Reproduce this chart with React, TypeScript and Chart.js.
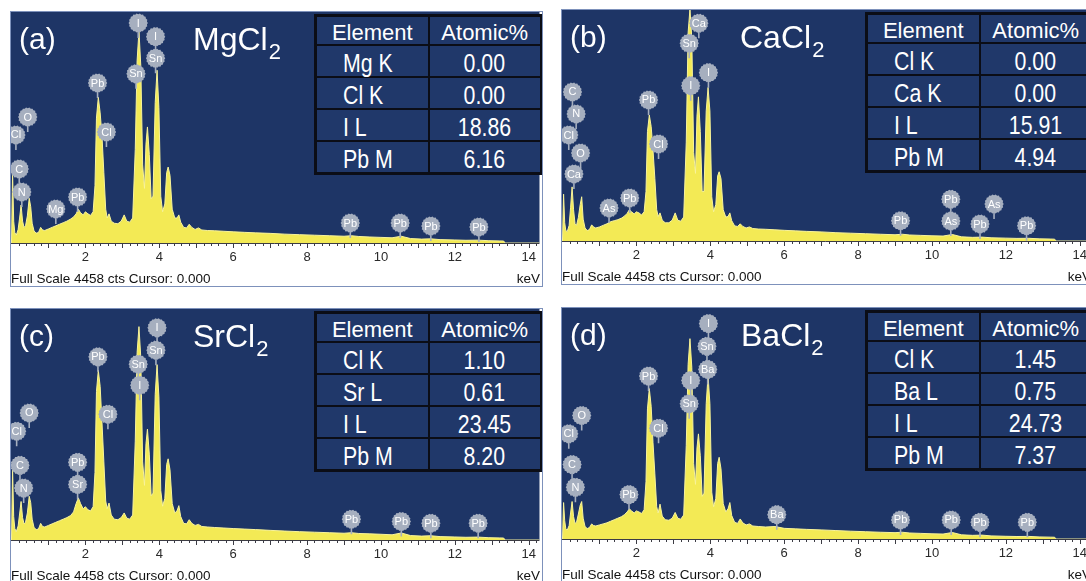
import React, { useEffect, useRef } from "react";
import { Chart, registerables } from "chart.js";

Chart.register(...registerables);

// ---------- data ----------
const energyKeV = [
  0, 0.03, 0.06, 0.09, 0.13, 0.18, 0.22, 0.26, 0.30, 0.34,
  0.38, 0.43, 0.48, 0.52, 0.56, 0.61, 0.67, 0.73, 0.79, 0.84,
  0.90, 1.00, 1.10, 1.20, 1.30, 1.40, 1.50, 1.60, 1.68, 1.75,
  1.81, 1.87, 1.94, 2.00, 2.07, 2.14, 2.21, 2.26, 2.30, 2.35,
  2.40, 2.45, 2.50, 2.55, 2.59, 2.64, 2.70, 2.78, 2.88, 2.97,
  3.05, 3.12, 3.20, 3.28, 3.35, 3.40, 3.45, 3.50, 3.55, 3.60,
  3.64, 3.68, 3.73, 3.78, 3.83, 3.89, 3.94, 3.99, 4.04, 4.09,
  4.15, 4.20, 4.24, 4.29, 4.35, 4.42, 4.48, 4.53, 4.58, 4.66,
  4.74, 4.81, 4.88, 4.97, 5.06, 5.15, 5.30, 5.50, 5.75, 6.00,
  6.30, 6.60, 7.00, 7.40, 7.80, 8.20, 8.60, 9.00, 9.20, 9.40,
  9.70, 10.00, 10.30, 10.55, 10.80, 11.10, 11.35, 11.60, 12.00, 12.30,
  12.62, 12.90, 13.20, 13.32, 13.36, 14.30,
];

const countsMgCl2 = [
  0, 1340, 420, 200, 150, 260, 480, 730, 420, 300,
  330, 520, 860, 700, 380, 230, 190, 200, 300, 250,
  240, 270, 300, 330, 360, 390, 420, 460, 500, 560,
  650, 580, 540, 600, 560, 530, 600, 1100, 2400, 2800,
  2500, 2050, 1350, 650, 480, 560, 420, 380, 370, 420,
  540, 420, 400, 480, 1800, 3500, 4080, 3400, 1500, 1050,
  1900, 2230, 1700, 850, 900, 2700, 3320, 2600, 900, 600,
  750, 1350, 1460, 1300, 650, 480, 480, 540, 400, 300,
  290, 360, 300, 260, 290, 250, 240, 235, 225, 215,
  205, 195, 185, 170, 160, 150, 140, 130, 140, 125,
  115, 108, 100, 130, 85, 75, 80, 65, 58, 52,
  55, 45, 40, 38, 0, 0,
];

const countsCaCl2 = [
  0, 900, 350, 200, 180, 300, 650, 1040, 600, 330,
  300, 450, 700, 850, 420, 250, 200, 220, 310, 270,
  250, 270, 300, 330, 370, 390, 410, 440, 480, 530,
  600, 560, 520, 560, 540, 500, 560, 950, 2100, 2420,
  2200, 1750, 1200, 600, 470, 540, 400, 350, 350, 400,
  540, 400, 380, 460, 1900, 4000, 4458, 3900, 1700, 1300,
  2400, 2770, 2100, 950, 950, 2500, 2950, 2500, 850, 560,
  700, 1250, 1330, 1200, 600, 460, 470, 540, 390, 290,
  280, 330, 280, 250, 270, 240, 230, 225, 215, 205,
  195, 185, 175, 160, 150, 140, 130, 120, 130, 115,
  108, 100, 95, 125, 80, 70, 75, 62, 55, 50,
  52, 42, 38, 35, 0, 0,
];

const countsSrCl2 = [
  0, 1350, 450, 220, 160, 270, 500, 740, 430, 310,
  340, 520, 840, 720, 400, 240, 200, 210, 320, 260,
  250, 280, 310, 340, 370, 400, 430, 470, 540, 700,
  810, 700, 600, 640, 580, 560, 640, 1300, 2850, 3260,
  2950, 2250, 1500, 750, 600, 710, 480, 400, 390, 430,
  520, 420, 400, 480, 1900, 3600, 4100, 3500, 1500, 1050,
  1850, 2130, 1650, 850, 900, 2800, 3370, 2750, 950, 650,
  800, 1450, 1560, 1350, 700, 520, 560, 660, 450, 320,
  310, 390, 320, 280, 300, 260, 250, 240, 230, 220,
  210, 200, 185, 172, 160, 150, 140, 130, 140, 125,
  118, 110, 100, 135, 85, 75, 82, 65, 58, 52,
  56, 45, 40, 38, 0, 0,
];

const countsBaCl2 = [
  0, 700, 350, 200, 170, 260, 500, 720, 430, 300,
  320, 480, 650, 720, 400, 240, 200, 220, 290, 260,
  250, 270, 290, 310, 340, 370, 400, 430, 470, 520,
  580, 540, 500, 540, 520, 490, 560, 1100, 2500, 2890,
  2550, 1850, 1250, 620, 500, 670, 440, 370, 360, 400,
  510, 400, 380, 460, 1800, 3350, 3850, 3300, 1450, 1050,
  1750, 2020, 1600, 820, 880, 2600, 3140, 2600, 900, 620,
  780, 1450, 1570, 1350, 680, 520, 580, 700, 450, 320,
  300, 385, 310, 270, 290, 250, 240, 230, 240, 205,
  195, 185, 175, 162, 150, 140, 130, 122, 130, 115,
  108, 100, 95, 125, 80, 70, 75, 60, 52, 48,
  50, 40, 36, 34, 0, 0,
];

// element markers: [label, keV, counts at marker centre]
type Marker = [string, number, number];
const markersMgCl2: Marker[] = [
  ["O", 0.44, 2420], ["Cl", 0.12, 2076], ["C", 0.21, 1422], ["N", 0.28, 980],
  ["Mg", 1.2, 653], ["Pb", 1.79, 884], ["Pb", 2.33, 3075], ["Cl", 2.57, 2133],
  ["I", 3.43, 4228], ["Sn", 3.37, 3250], ["I", 3.9, 3965], ["Sn", 3.9, 3550],
  ["Pb", 9.17, 384], ["Pb", 10.52, 384], ["Pb", 11.35, 327], ["Pb", 12.65, 307],
];
const markersCaCl2: Marker[] = [
  ["C", 0.27, 2864], ["N", 0.37, 2441], ["Cl", 0.17, 2037], ["O", 0.49, 1691],
  ["Ca", 0.31, 1288], ["As", 1.26, 634], ["Pb", 1.82, 826], ["Pb", 2.33, 2710],
  ["Cl", 2.6, 1864], ["Ca", 3.69, 4184], ["Sn", 3.43, 3800], ["I", 3.47, 2985],
  ["I", 3.95, 3235], ["Pb", 9.15, 390], ["Pb", 10.51, 801], ["As", 10.51, 384],
  ["Pb", 11.3, 327], ["As", 11.68, 711], ["Pb", 12.56, 294],
];
const markersSrCl2: Marker[] = [
  ["O", 0.48, 2441], ["Cl", 0.14, 2089], ["C", 0.23, 1434], ["N", 0.33, 997],
  ["Pb", 1.79, 1492], ["Sr", 1.79, 1068], ["Pb", 2.34, 3519], ["Cl", 2.61, 2416],
  ["Sn", 3.43, 3378], ["I", 3.47, 2974], ["I", 3.94, 4077], ["Sn", 3.91, 3648],
  ["Pb", 9.2, 400], ["Pb", 10.55, 356], ["Pb", 11.35, 323], ["Pb", 12.63, 323],
];
const markersBaCl2: Marker[] = [
  ["O", 0.52, 2373], ["Cl", 0.17, 2021], ["C", 0.26, 1430], ["N", 0.35, 993],
  ["Pb", 1.8, 853], ["Pb", 2.33, 3130], ["Cl", 2.6, 2129], ["I", 3.47, 3047],
  ["Sn", 3.43, 2599], ["I", 3.95, 4139], ["Sn", 3.91, 3702], ["Ba", 3.93, 3259],
  ["Ba", 5.8, 468], ["Pb", 9.15, 366], ["Pb", 10.52, 366], ["Pb", 11.3, 320],
  ["Pb", 12.58, 320],
];

const xTickValues = [2, 4, 6, 8, 10, 12, 14];
const FULL_SCALE_CTS = 4458;
const tableHeader = ["Element", "Atomic%"];
const rowsMgCl2 = [["Mg K", "0.00"], ["Cl K", "0.00"], ["I L", "18.86"], ["Pb M", "6.16"]];
const rowsCaCl2 = [["Cl K", "0.00"], ["Ca K", "0.00"], ["I L", "15.91"], ["Pb M", "4.94"]];
const rowsSrCl2 = [["Cl K", "1.10"], ["Sr L", "0.61"], ["I L", "23.45"], ["Pb M", "8.20"]];
const rowsBaCl2 = [["Cl K", "1.45"], ["Ba L", "0.75"], ["I L", "24.73"], ["Pb M", "7.37"]];

// ---------- style ----------
const NAVY = "#1e3566";
const CELL = "#20386a";
const GRIDLINE = "#0b0d16";
const YELLOW = "#f3ea55";
const YELLOW_EDGE = "#f8f39a";
const MARKER_FILL = "#a6afbf";
const FONT = '"Liberation Sans", Arial, Helvetica, sans-serif';
const X_MIN = -0.04;
const X_MAX = 14.29;
const PANEL_W = 533;
const PANEL_H = 276;
const AXIS_H = 44;

function topFor(baseline: number, fs: number) {
  return baseline - 0.8465 * fs;
}

function drawMarker(ctx: CanvasRenderingContext2D, x: number, y: number, label: string) {
  const r = 9;
  ctx.strokeStyle = MARKER_FILL;
  ctx.lineWidth = 1.6;
  ctx.beginPath();
  ctx.moveTo(x, y + r - 1);
  ctx.lineTo(x, y + r + 6);
  ctx.stroke();
  ctx.fillStyle = MARKER_FILL;
  ctx.beginPath();
  const n = 18;
  for (let i = 0; i <= n * 2; i++) {
    const a = (i * Math.PI) / n;
    const rr = i % 2 === 0 ? r + 0.7 : r - 0.2;
    const px = x + rr * Math.cos(a);
    const py = y + rr * Math.sin(a);
    if (i === 0) ctx.moveTo(px, py);
    else ctx.lineTo(px, py);
  }
  ctx.closePath();
  ctx.fill();
  ctx.fillStyle = "#ffffff";
  ctx.font = `11px ${FONT}`;
  ctx.textAlign = "center";
  ctx.textBaseline = "middle";
  ctx.fillText(label, x, y + 0.5);
}

function SpectrumCanvas({ counts, markers }: { counts: number[]; markers: Marker[] }) {
  const ref = useRef<HTMLCanvasElement | null>(null);
  useEffect(() => {
    const canvas = ref.current;
    if (!canvas) return;
    const decor = {
      id: "edsDecor",
      beforeDatasetsDraw(chart: any) {
        const { ctx, chartArea: a } = chart;
        ctx.save();
        ctx.fillStyle = NAVY;
        ctx.fillRect(a.left, a.top, a.right - a.left, a.bottom - a.top);
        ctx.restore();
      },
      afterDatasetsDraw(chart: any) {
        const { ctx, chartArea: a, scales } = chart;
        ctx.save();
        ctx.beginPath();
        ctx.rect(a.left, a.top, a.right - a.left, a.bottom - a.top);
        ctx.clip();
        for (const [label, kev, cts] of markers) {
          drawMarker(ctx, scales.x.getPixelForValue(kev), scales.y.getPixelForValue(cts), label);
        }
        ctx.restore();
      },
      afterDraw(chart: any) {
        const { ctx, chartArea: a, scales } = chart;
        ctx.save();
        ctx.strokeStyle = "#3c3c44";
        ctx.lineWidth = 1;
        ctx.beginPath();
        ctx.moveTo(a.left, a.bottom + 0.5);
        ctx.lineTo(a.right, a.bottom + 0.5);
        ctx.stroke();
        for (let k = 1; k <= 71; k++) {
          const v = k * 0.2;
          const px = Math.round(scales.x.getPixelForValue(v)) + 0.5;
          const len = k % 5 === 0 ? 5 : 3;
          ctx.beginPath();
          ctx.moveTo(px, a.bottom);
          ctx.lineTo(px, a.bottom + len);
          ctx.stroke();
        }
        ctx.restore();
      },
    };
    const chart = new Chart(canvas, {
      type: "line",
      data: {
        datasets: [
          {
            data: energyKeV.map((e, i) => ({ x: e, y: counts[i] })),
            fill: "origin",
            backgroundColor: YELLOW,
            borderColor: YELLOW_EDGE,
            borderWidth: 1,
            pointRadius: 0,
            tension: 0,
          },
        ],
      },
      options: {
        responsive: false,
        animation: false,
        events: [],
        layout: { padding: 0 },
        plugins: {
          legend: { display: false },
          tooltip: { enabled: false },
          title: { display: false },
        },
        scales: {
          x: {
            type: "linear",
            min: X_MIN,
            max: X_MAX,
            position: "bottom",
            grid: { display: false, drawTicks: false },
            border: { display: false },
            afterBuildTicks: (s: any) => {
              s.ticks = xTickValues.map((v) => ({ value: v }));
            },
            afterFit: (s: any) => {
              s.height = AXIS_H;
            },
            ticks: {
              autoSkip: false,
              maxRotation: 0,
              padding: 7,
              color: "#2a2a2a",
              font: { family: FONT, size: 13 },
            },
          },
          y: { display: false, min: 0, max: FULL_SCALE_CTS },
        },
      } as any,
      plugins: [decor],
    });
    return () => chart.destroy();
  }, [counts, markers]);
  return (
    <canvas
      ref={ref}
      width={PANEL_W}
      height={PANEL_H}
      style={{ position: "absolute", left: 0, top: 0, width: PANEL_W, height: PANEL_H }}
    />
  );
}

function ResultTable({ rows }: { rows: string[][] }) {
  const cell: React.CSSProperties = {
    background: CELL,
    color: "#fff",
    display: "flex",
    alignItems: "center",
    paddingTop: 4,
    boxSizing: "border-box",
    overflow: "visible",
    whiteSpace: "nowrap",
  };
  const narrow = (origin: string): React.CSSProperties => ({
    display: "inline-block",
    fontSize: 26,
    lineHeight: 1,
    transform: "scaleX(0.82)",
    transformOrigin: origin,
  });
  return (
    <div
      style={{
        position: "absolute",
        left: 304,
        top: 3,
        width: 229,
        height: 161,
        background: GRIDLINE,
        boxSizing: "border-box",
        padding: 3,
        display: "grid",
        gridTemplateColumns: "1fr 1fr",
        gridTemplateRows: "repeat(5, 1fr)",
        gap: 2,
      }}
    >
      {tableHeader.map((h) => (
        <div key={h} style={{ ...cell, justifyContent: "center", fontSize: 22, lineHeight: 1 }}>
          {h}
        </div>
      ))}
      {rows.map(([el, v]) => (
        <React.Fragment key={el}>
          <div style={{ ...cell, justifyContent: "flex-start", paddingLeft: 26 }}>
            <span style={narrow("left center")}>{el}</span>
          </div>
          <div style={{ ...cell, justifyContent: "center" }}>
            <span style={narrow("center center")}>{v}</span>
          </div>
        </React.Fragment>
      ))}
    </div>
  );
}

type PanelProps = {
  left: number;
  top: number;
  tag: string;
  formula: string;
  formulaLeft: number;
  counts: number[];
  markers: Marker[];
  rows: string[][];
};

function Panel({ left, top, tag, formula, formulaLeft, counts, markers, rows }: PanelProps) {
  return (
    <div style={{ position: "absolute", left, top, width: PANEL_W, height: PANEL_H, background: "#fff" }}>
      <SpectrumCanvas counts={counts} markers={markers} />
      <div
        style={{
          position: "absolute",
          left: 9,
          top: topFor(38, 30),
          fontSize: 30,
          lineHeight: "30px",
          color: "#fff",
          whiteSpace: "nowrap",
        }}
      >
        {tag}
      </div>
      <div
        style={{
          position: "absolute",
          left: formulaLeft,
          top: topFor(39, 32),
          fontSize: 32,
          lineHeight: "32px",
          color: "#fff",
          whiteSpace: "nowrap",
        }}
      >
        {formula}
        <span style={{ fontSize: 22, lineHeight: 0, position: "relative", top: 9, marginLeft: 1 }}>2</span>
      </div>
      <ResultTable rows={rows} />
      <div
        style={{
          position: "absolute",
          left: 1,
          top: topFor(272, 13.5),
          fontSize: 13.5,
          lineHeight: "13.5px",
          color: "#111",
          whiteSpace: "nowrap",
        }}
      >
        Full Scale 4458 cts Cursor: 0.000
      </div>
      <div
        style={{
          position: "absolute",
          right: 3,
          top: topFor(272, 13.5),
          fontSize: 13.5,
          lineHeight: "13.5px",
          color: "#111",
          whiteSpace: "nowrap",
        }}
      >
        keV
      </div>
      <div
        style={{
          position: "absolute",
          left: 0,
          top: 0,
          width: PANEL_W,
          height: PANEL_H,
          border: "1px solid #7d91bb",
          boxSizing: "border-box",
          pointerEvents: "none",
        }}
      />
    </div>
  );
}

export default function App() {
  return (
    <div
      style={{
        position: "fixed",
        left: 0,
        top: 0,
        width: 1086,
        height: 581,
        overflow: "hidden",
        background: "#fff",
        fontFamily: FONT,
      }}
    >
      <Panel left={10} top={11} tag="(a)" formula="MgCl" formulaLeft={183} counts={countsMgCl2} markers={markersMgCl2} rows={rowsMgCl2} />
      <Panel left={561} top={9} tag="(b)" formula="CaCl" formulaLeft={179} counts={countsCaCl2} markers={markersCaCl2} rows={rowsCaCl2} />
      <Panel left={10} top={308} tag="(c)" formula="SrCl" formulaLeft={183} counts={countsSrCl2} markers={markersSrCl2} rows={rowsSrCl2} />
      <Panel left={561} top={307} tag="(d)" formula="BaCl" formulaLeft={180} counts={countsBaCl2} markers={markersBaCl2} rows={rowsBaCl2} />
    </div>
  );
}
